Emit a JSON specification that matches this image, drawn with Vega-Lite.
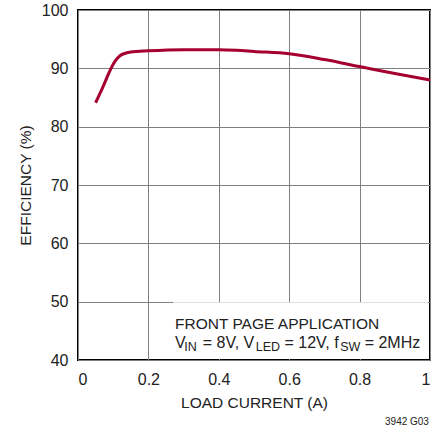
{
  "$schema": "https://vega.github.io/schema/vega-lite/v6.json",
  "width": 352,
  "height": 350,
  "autosize": {"type": "none"},
  "padding": {"left": 78, "top": 10, "right": 13, "bottom": 73},
  "config": {
    "font": "Liberation Sans, Arial, sans-serif",
    "view": {"stroke": "#000000", "strokeWidth": 2},
    "axis": {
      "domain": false,
      "ticks": false,
      "grid": true,
      "gridColor": "#808080",
      "gridWidth": 1,
      "labelFont": "Liberation Sans, Arial, sans-serif",
      "labelFontSize": 16,
      "labelColor": "#222222",
      "titleFont": "Liberation Sans, Arial, sans-serif",
      "titleFontSize": 15.5,
      "titleFontWeight": "normal",
      "titleColor": "#222222"
    }
  },
  "layer": [
    {
      "data": {"values": [
        {"current": 0.05, "eff": 84.1},
        {"current": 0.07, "eff": 86.7},
        {"current": 0.09, "eff": 89.5},
        {"current": 0.10, "eff": 90.7},
        {"current": 0.11, "eff": 91.6},
        {"current": 0.12, "eff": 92.2},
        {"current": 0.13, "eff": 92.5},
        {"current": 0.15, "eff": 92.8},
        {"current": 0.20, "eff": 93.0},
        {"current": 0.30, "eff": 93.2},
        {"current": 0.40, "eff": 93.2},
        {"current": 0.45, "eff": 93.1},
        {"current": 0.50, "eff": 92.9},
        {"current": 0.60, "eff": 92.5},
        {"current": 0.70, "eff": 91.5},
        {"current": 0.80, "eff": 90.3},
        {"current": 0.90, "eff": 89.1},
        {"current": 1.00, "eff": 88.0}
      ]},
      "mark": {"type": "line", "color": "#a5002f", "strokeWidth": 3, "interpolate": "monotone"},
      "encoding": {
        "x": {
          "field": "current", "type": "quantitative",
          "scale": {"domain": [0, 1], "nice": false},
          "axis": {"values": [0, 0.2, 0.4, 0.6, 0.8, 1], "format": ".1~f", "title": "LOAD CURRENT (A)", "labelPadding": 11, "titlePadding": 8}
        },
        "y": {
          "field": "eff", "type": "quantitative",
          "scale": {"domain": [40, 100], "nice": false, "zero": false},
          "axis": {"values": [40, 50, 60, 70, 80, 90, 100], "format": "d", "title": "EFFICIENCY (%)", "labelPadding": 10, "titlePadding": 8}
        }
      }
    },
    {
      "data": {"values": [{}]},
      "mark": {"type": "rect", "fill": "#ffffff"},
      "encoding": {
        "x": {"datum": 0.27, "type": "quantitative"},
        "x2": {"datum": 0.994},
        "y": {"datum": 40.17, "type": "quantitative"},
        "y2": {"datum": 49.9}
      }
    },
    {
      "data": {"values": [{"t": "FRONT PAGE APPLICATION"}]},
      "mark": {"type": "text", "align": "left", "baseline": "alphabetic", "fontSize": 15.5, "color": "#222222"},
      "encoding": {"text": {"field": "t"}, "x": {"datum": 0.2756, "type": "quantitative"}, "y": {"datum": 45.31, "type": "quantitative"}}
    },
    {
      "data": {"values": [{"t": "V"}]},
      "mark": {"type": "text", "align": "left", "baseline": "alphabetic", "fontSize": 16, "color": "#222222"},
      "encoding": {"text": {"field": "t"}, "x": {"datum": 0.2756, "type": "quantitative"}, "y": {"datum": 42.06, "type": "quantitative"}}
    },
    {
      "data": {"values": [{"t": "IN"}]},
      "mark": {"type": "text", "align": "left", "baseline": "alphabetic", "fontSize": 12.5, "dy": 3, "color": "#222222"},
      "encoding": {"text": {"field": "t"}, "x": {"datum": 0.3022, "type": "quantitative"}, "y": {"datum": 42.06, "type": "quantitative"}}
    },
    {
      "data": {"values": [{"t": "= 8V, V"}]},
      "mark": {"type": "text", "align": "left", "baseline": "alphabetic", "fontSize": 16, "color": "#222222"},
      "encoding": {"text": {"field": "t"}, "x": {"datum": 0.3545, "type": "quantitative"}, "y": {"datum": 42.06, "type": "quantitative"}}
    },
    {
      "data": {"values": [{"t": "LED"}]},
      "mark": {"type": "text", "align": "left", "baseline": "alphabetic", "fontSize": 12.5, "dy": 3, "color": "#222222"},
      "encoding": {"text": {"field": "t"}, "x": {"datum": 0.5052, "type": "quantitative"}, "y": {"datum": 42.06, "type": "quantitative"}}
    },
    {
      "data": {"values": [{"t": "= 12V, f"}]},
      "mark": {"type": "text", "align": "left", "baseline": "alphabetic", "fontSize": 16, "color": "#222222"},
      "encoding": {"text": {"field": "t"}, "x": {"datum": 0.5866, "type": "quantitative"}, "y": {"datum": 42.06, "type": "quantitative"}}
    },
    {
      "data": {"values": [{"t": "SW"}]},
      "mark": {"type": "text", "align": "left", "baseline": "alphabetic", "fontSize": 12.5, "dy": 3, "color": "#222222"},
      "encoding": {"text": {"field": "t"}, "x": {"datum": 0.7449, "type": "quantitative"}, "y": {"datum": 42.06, "type": "quantitative"}}
    },
    {
      "data": {"values": [{"t": "= 2MHz"}]},
      "mark": {"type": "text", "align": "left", "baseline": "alphabetic", "fontSize": 16, "color": "#222222"},
      "encoding": {"text": {"field": "t"}, "x": {"datum": 0.8144, "type": "quantitative"}, "y": {"datum": 42.06, "type": "quantitative"}}
    },
    {
      "data": {"values": [{"t": "3942 G03"}]},
      "mark": {"type": "text", "align": "right", "baseline": "alphabetic", "fontSize": 10, "dy": 65, "color": "#222222"},
      "encoding": {"text": {"field": "t"}, "x": {"datum": 0.997, "type": "quantitative"}, "y": {"datum": 40, "type": "quantitative"}}
    }
  ]
}
